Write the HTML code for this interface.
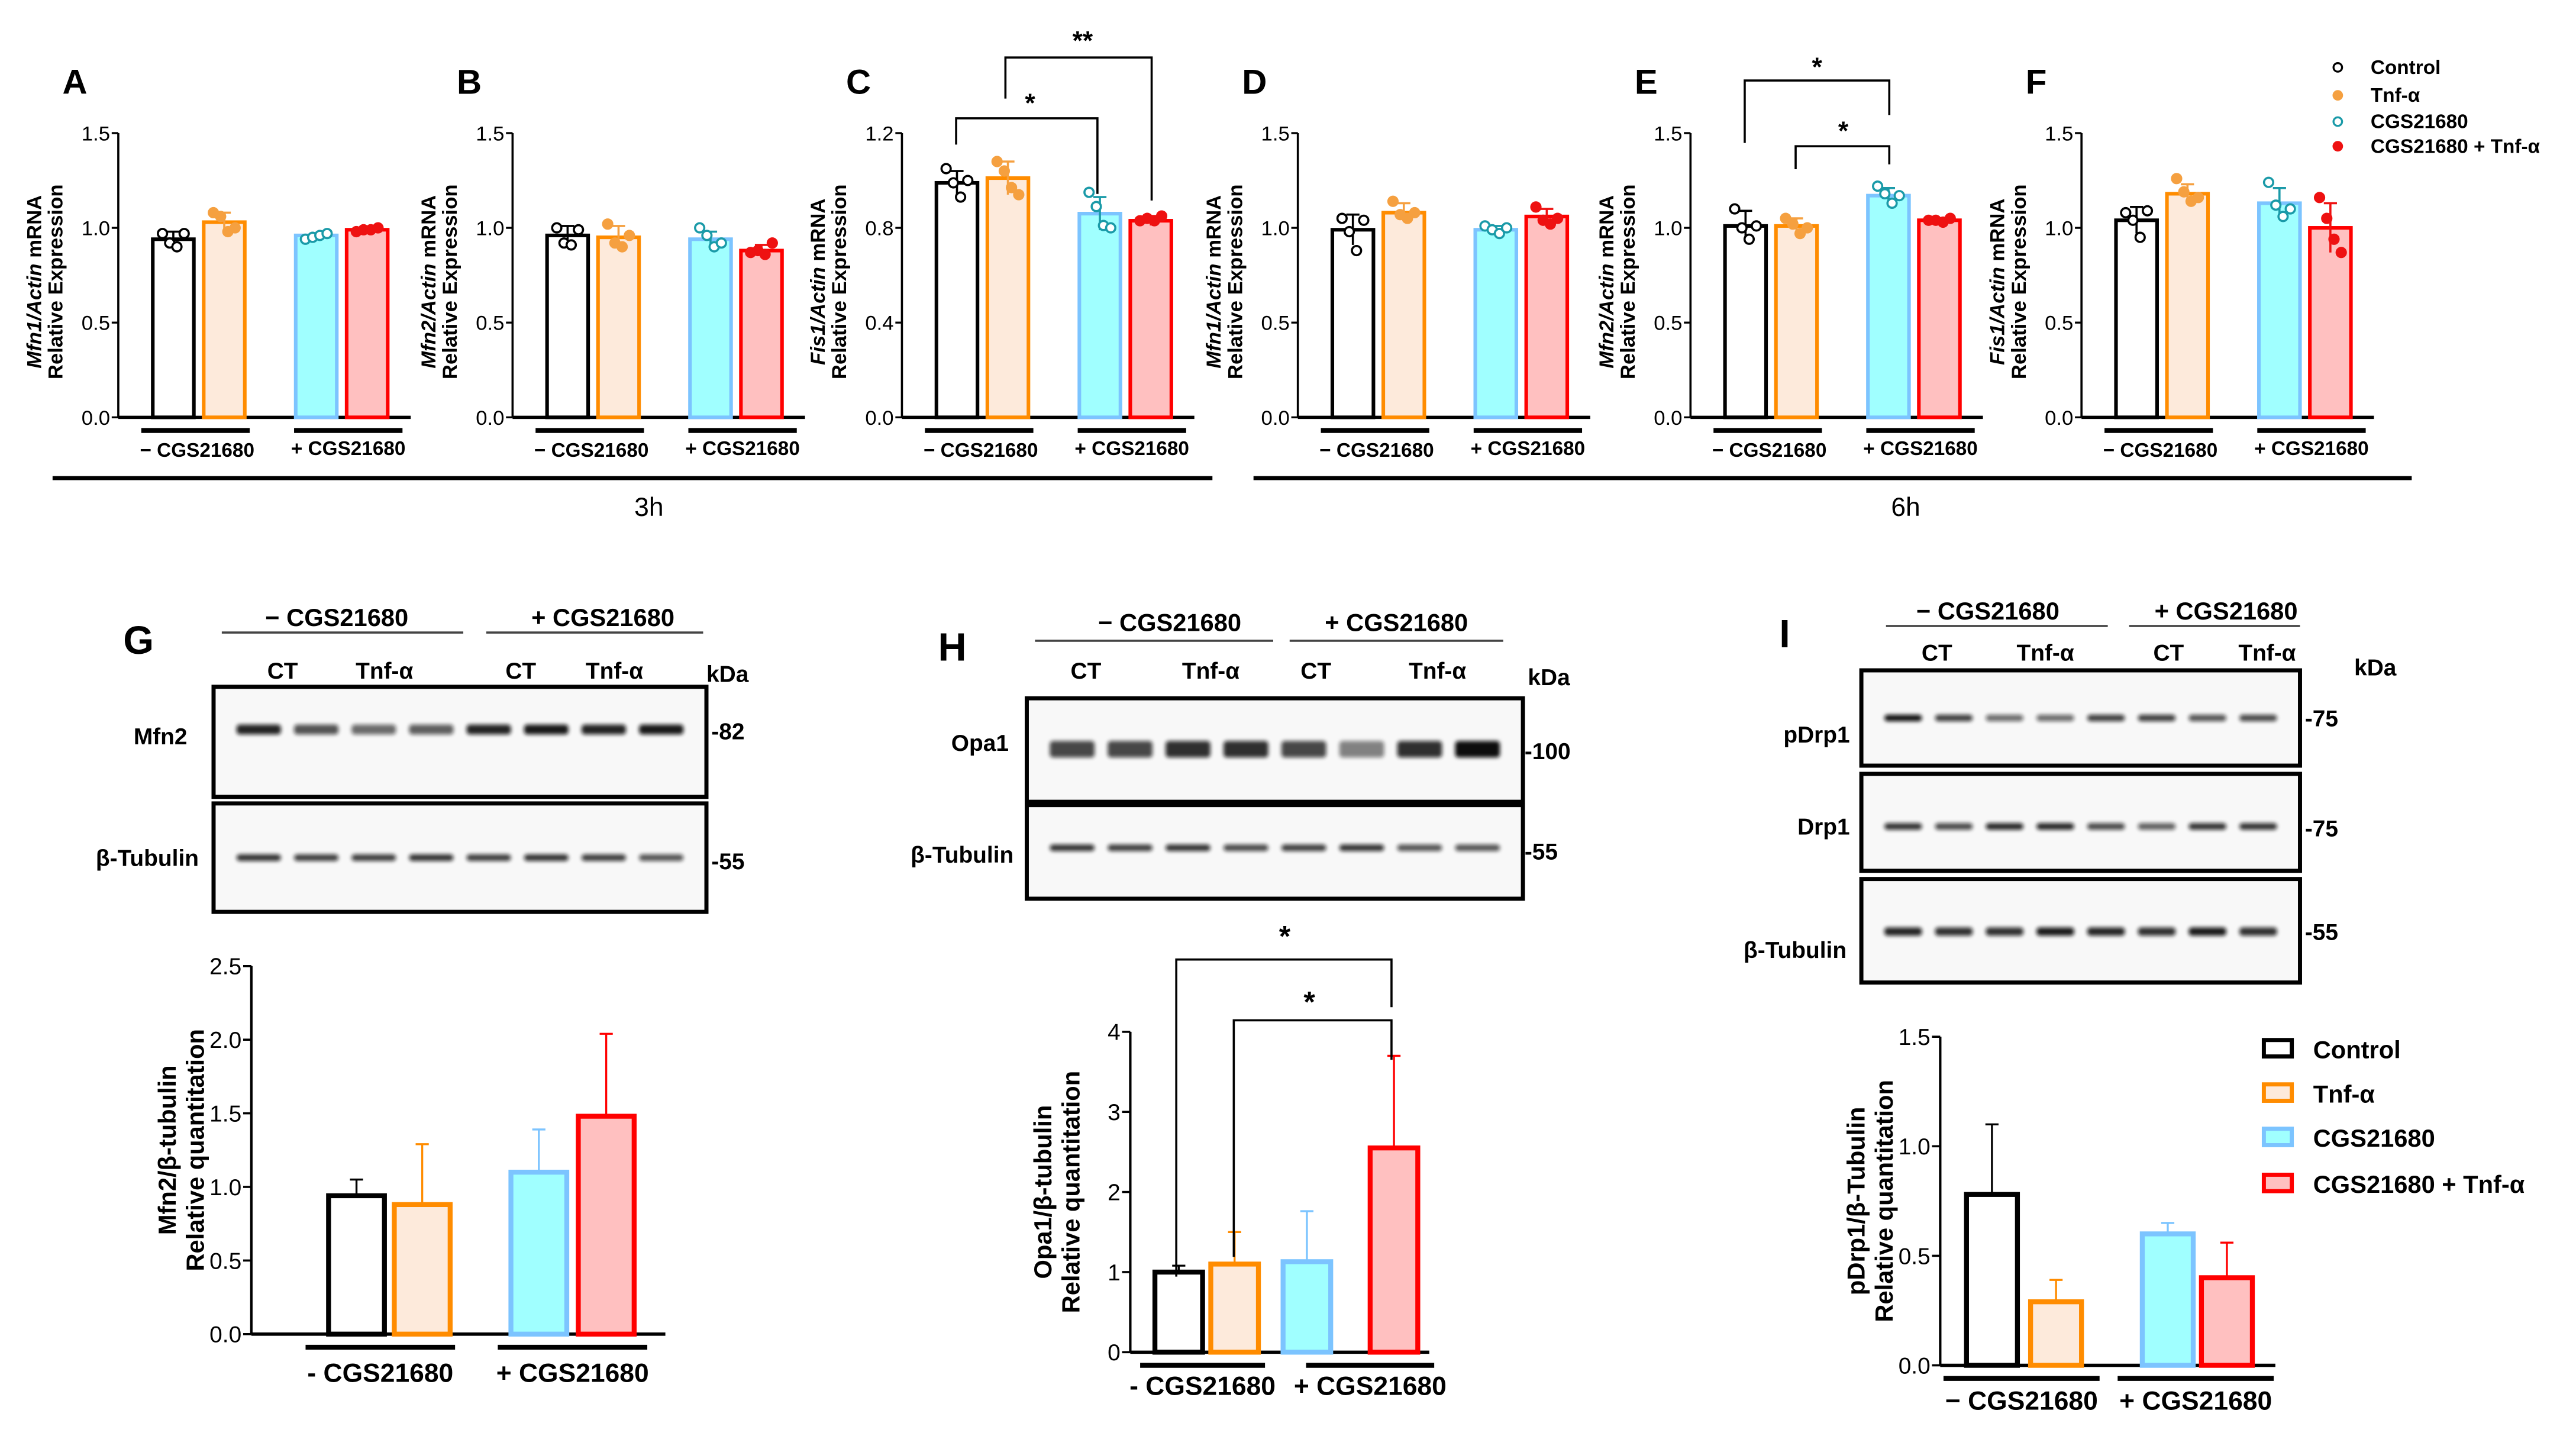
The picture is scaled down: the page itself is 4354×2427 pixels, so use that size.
<!DOCTYPE html>
<html><head><meta charset="utf-8"><style>
html,body{margin:0;padding:0;background:#fff;}
svg{display:block;font-family:"Liberation Sans",sans-serif;}
</style></head><body>
<svg id="fig" width="4354" height="2427" viewBox="0 0 1568 874" xmlns="http://www.w3.org/2000/svg">
<defs><filter id="bl" x="-20%" y="-100%" width="140%" height="300%"><feGaussianBlur stdDeviation="1.2"/></filter></defs>
<g id="root"></g>
</svg>
<script>
// ---- qPCR panel data (A-F) ----
const groups = ["Control","Tnf-α","CGS21680","CGS21680 + Tnf-α"];
const panelLetters = ["A","B","C","D","E","F"];
const panelGenes = ["Mfn1","Mfn2","Fis1","Mfn1","Mfn2","Fis1"];
const panelMax = [1.5,1.5,1.2,1.5,1.5,1.5];
const panelTicks = [[0,0.5,1.0,1.5],[0,0.5,1.0,1.5],[0,0.4,0.8,1.2],[0,0.5,1.0,1.5],[0,0.5,1.0,1.5],[0,0.5,1.0,1.5]];
const meansA = [0.94,1.03,0.96,0.99];
const meansB = [0.96,0.95,0.94,0.88];
const meansC = [0.99,1.01,0.86,0.83];
const meansD = [0.99,1.08,0.99,1.06];
const meansE = [1.01,1.01,1.17,1.04];
const meansF = [1.04,1.18,1.13,1.00];
const ptsA = [[0.97,0.92,0.90,0.97],[1.08,1.06,0.98,1.00],[0.94,0.95,0.96,0.97],[0.98,0.99,0.99,1.00]];
const ptsB = [[1.00,0.92,0.91,0.99],[1.02,0.92,0.90,0.96],[1.00,0.96,0.90,0.92],[0.87,0.88,0.86,0.92]];
const ptsC = [[1.05,0.99,0.93,1.00],[1.08,1.04,0.97,0.94],[0.95,0.89,0.81,0.80],[0.83,0.84,0.83,0.85]];
const ptsD = [[1.05,0.98,0.88,1.04],[1.14,1.07,1.05,1.08],[1.01,0.99,0.97,1.00],[1.11,1.04,1.02,1.05]];
const ptsE = [[1.10,1.00,0.94,1.01],[1.05,1.02,0.97,1.00],[1.22,1.18,1.13,1.17],[1.04,1.04,1.03,1.05]];
const ptsF = [[1.08,1.04,0.95,1.09],[1.26,1.19,1.14,1.16],[1.24,1.12,1.06,1.10],[1.16,1.05,0.94,0.87]];
const sdA=[0.04,0.05,0.01,0.01], sdB=[0.05,0.06,0.04,0.03], sdC=[0.05,0.07,0.07,0.02], sdD=[0.08,0.05,0.02,0.04], sdE=[0.08,0.04,0.04,0.01], sdF=[0.07,0.05,0.08,0.13];
const pMeans=[meansA,meansB,meansC,meansD,meansE,meansF];
const pPts=[ptsA,ptsB,ptsC,ptsD,ptsE,ptsF];
const pSd=[sdA,sdB,sdC,sdD,sdE,sdF];
// ---- western quantification data (G-I) ----
const gMeans=[0.94,0.88,1.10,1.48], gErr=[0.11,0.41,0.29,0.56], gTicks=[0,0.5,1.0,1.5,2.0,2.5];
const hMeans=[1.00,1.10,1.13,2.55], hErr=[0.08,0.40,0.63,1.15], hTicks=[0,1,2,3,4];
const iMeans=[0.78,0.29,0.60,0.40], iErr=[0.32,0.10,0.05,0.16], iTicks=[0,0.5,1.0,1.5];

const NS="http://www.w3.org/2000/svg";
const root=document.getElementById('root');
function el(tag,attrs,parent,text){const e=document.createElementNS(NS,tag);for(const k in attrs)e.setAttribute(k,attrs[k]);if(text!==undefined)e.textContent=text;(parent||root).appendChild(e);return e;}
const strokeC=["#000","#ff8c00","#7cc4ff","#ff0000"];
const fillC=["#fff","#fdeadb","#a0ffff","#ffc0c0"];
const ptC=["#000","#f5a040","#1a9aa8","#ee1111"];
const ptFill=["#fff","#f5a040","#fff","#ee1111"];
const offs=[21,52,108,139];

// qPCR panels
const axX=[72,312,549,790,1029,1267];
for(let p=0;p<6;p++){
  const g=el('g',{});
  
  
  const x0=axX[p],yT=81,yB=254,mx=panelMax[p];
  const ys=v=>yB-(v/mx)*(yB-yT);
  const t=el('text',{x:x0-34,y:57,'font-size':21,'font-weight':'bold'},g,panelLetters[p]);
  
  el('line',{x1:x0,y1:yT,x2:x0,y2:yB,stroke:'#000','stroke-width':1.3},g);
  el('line',{x1:x0,y1:yB,x2:x0+178,y2:yB,stroke:'#000','stroke-width':2},g);
  panelTicks[p].forEach(v=>{el('line',{x1:x0-4,y1:ys(v),x2:x0,y2:ys(v),stroke:'#000','stroke-width':1.2},g);
    const tl=el('text',{x:x0-5,y:ys(v)+4.5,'font-size':12.5,'text-anchor':'end'},g,v.toFixed(1));
    });
  const yl=el('text',{transform:`translate(${x0-47},${(yT+yB)/2+4}) rotate(-90)`,'font-size':12.5,'font-weight':'bold','text-anchor':'middle'},g);
  
  el('tspan',{'font-style':'italic'},yl,panelGenes[p]+'/Actin');el('tspan',{},yl,' mRNA');
  const yl2=el('text',{transform:`translate(${x0-34},${(yT+yB)/2+4}) rotate(-90)`,'font-size':12.5,'font-weight':'bold','text-anchor':'middle'},g,'Relative Expression');
  
  for(let i=0;i<4;i++){
    const bx=x0+offs[i],m=pMeans[p][i];
    const r=el('rect',{x:bx,y:ys(m),width:25,height:yB-ys(m),fill:fillC[i],stroke:strokeC[i],'stroke-width':2.2},g);
    
    const cx=bx+12.5,sd=pSd[p][i];
    el('line',{x1:cx,y1:ys(m-sd),x2:cx,y2:ys(m+sd),stroke:ptC[i],'stroke-width':1.3},g);
    el('line',{x1:cx-4,y1:ys(m+sd),x2:cx+4,y2:ys(m+sd),stroke:ptC[i],'stroke-width':1.3},g);
    pPts[p][i].forEach((v,k)=>{const c=el('circle',{cx:cx+[-6,-2,2,6][k]*1.1,cy:ys(v),r:2.8,fill:ptFill[i],stroke:ptC[i],'stroke-width':1.3},g);
      });
  }
  el('line',{x1:x0+14,y1:262,x2:x0+80,y2:262,stroke:'#000','stroke-width':3},g);
  el('line',{x1:x0+107,y1:262,x2:x0+173,y2:262,stroke:'#000','stroke-width':3},g);
  const l1=el('text',{x:x0+48,y:278,'font-size':12,'font-weight':'bold','text-anchor':'middle'},g,'− CGS21680');
  
  const l2=el('text',{x:x0+140,y:277,'font-size':12,'font-weight':'bold','text-anchor':'middle'},g,'+ CGS21680');
  
}
// significance brackets
function bracket(x1,x2,y,yl1,yl2,star,sx,sy,fs){
  el('path',{d:`M${x1},${yl1} V${y} H${x2} V${yl2}`,fill:'none',stroke:'#000','stroke-width':1.3});
  const s=el('text',{x:sx,y:sy,'font-size':fs||16,'font-weight':'bold','text-anchor':'middle'},root,star);
  
}
bracket(582,668,72,88,118,'*',627,68);
bracket(612,701,35,60,122,'**',659,30);
bracket(1062,1150,49,87,70,'*',1106,46);
bracket(1093,1150,89,103,100,'*',1122,85);
// time lines
el('line',{x1:32,y1:291,x2:738,y2:291,stroke:'#000','stroke-width':2.5});
el('line',{x1:763,y1:291,x2:1468,y2:291,stroke:'#000','stroke-width':2.5});
let tt=el('text',{x:395,y:314,'font-size':16,'text-anchor':'middle'},root,'3h');
tt=el('text',{x:1160,y:314,'font-size':16,'text-anchor':'middle'},root,'6h');
// top legend
groups.forEach((gname,i)=>{const y=[41,58,74,89][i];
  const c=el('circle',{cx:1423,cy:y,r:2.6,fill:ptFill[i],stroke:ptC[i],'stroke-width':1.2});
  
  const t=el('text',{x:1443,y:y+4,'font-size':12,'font-weight':'bold'},root,gname);
  });

// blots
function txt(x,y,s,fs,anchor,name){const t=el('text',{x:x,y:y,'font-size':fs,'font-weight':'bold','text-anchor':anchor||'start'},root,s);
  return t;}
function blot(x1,x2,y1,y2,bandY,th,intens,name){
  const r=el('rect',{x:x1,y:y1,width:x2-x1,height:y2-y1,fill:'#f8f8f8',stroke:'#000','stroke-width':2.5});
  
  const n=8,lw=(x2-x1-20)/n;
  for(let i=0;i<n;i++){const b=el('rect',{x:x1+10+i*lw+4,y:bandY-th/2,width:lw-8,height:th,rx:2,fill:'#111',opacity:intens[i],filter:'url(#bl)'});
    }
}
function header(xm,xp,lm1,lm2,lp1,lp2,yh,yl,lanes,ylane,kx,ky){
  txt(xm,yh,'− CGS21680',15,'middle','group-header');txt(xp,yh,'+ CGS21680',15,'middle','group-header');
  el('line',{x1:lm1,y1:yl,x2:lm2,y2:yl,stroke:'#444','stroke-width':1.3});
  el('line',{x1:lp1,y1:yl,x2:lp2,y2:yl,stroke:'#444','stroke-width':1.3});
  ['CT','Tnf-α','CT','Tnf-α'].forEach((s,i)=>txt(lanes[i],ylane,s,14,'middle','lane-label'));
  txt(kx,ky,'kDa',14,'start','kda-label');
}
// G
txt(75,398,'G',24,'start','panel-letter');
header(205,367,135,282,296,428,381,385,[172,234,317,374],413,430,415);
blot(130,430,418,485,444,6,[0.9,0.7,0.6,0.65,0.9,0.95,0.9,0.95],'blot-mfn2');
blot(130,430,489,555,522,4,[0.85,0.8,0.8,0.85,0.8,0.85,0.8,0.7],'blot-tubulin');
txt(114,453,'Mfn2',14,'end','row-label');txt(121,527,'β-Tubulin',14,'end','row-label');
txt(433,450,'-82',14,'start','kda-marker');txt(433,529,'-55',14,'start','kda-marker');
// H
txt(571,402,'H',24,'start','panel-letter');
header(712,850,630,775,785,915,384,390,[661,737,801,875],413,930,417);
blot(625,927,425,488,456,10,[0.75,0.75,0.85,0.85,0.75,0.5,0.85,1],'blot-opa1');
blot(625,927,490,547,516,4,[0.85,0.8,0.85,0.75,0.8,0.85,0.7,0.7],'blot-tubulin-h');
txt(614,457,'Opa1',14,'end','row-label');txt(617,525,'β-Tubulin',14,'end','row-label');
txt(928,462,'-100',14,'start','kda-marker');txt(928,523,'-55',14,'start','kda-marker');
// I
txt(1083,394,'I',24,'start','panel-letter');
header(1210,1355,1148,1283,1296,1400,377,381,[1179,1245,1320,1380],402,1433,411);
blot(1133,1400,408,466,437,4,[1,0.8,0.6,0.6,0.8,0.8,0.7,0.75],'blot-pdrp1');
blot(1133,1400,471,530,503,4,[0.85,0.75,0.9,0.9,0.75,0.65,0.85,0.85],'blot-drp1');
blot(1133,1400,535,598,567,5,[0.9,0.85,0.85,0.95,0.9,0.85,0.95,0.85],'blot-tubulin-i');
txt(1126,452,'pDrp1',14,'end','row-label');txt(1126,508,'Drp1',14,'end','row-label');txt(1124,583,'β-Tubulin',14,'end','row-label');
txt(1403,442,'-75',14,'start','kda-marker');txt(1403,509,'-75',14,'start','kda-marker');txt(1403,572,'-55',14,'start','kda-marker');

// quantification charts
function qchart(o){
  const g=el('g',{});
  const mx=o.ticks[o.ticks.length-1];const ys=v=>o.yB-(v/mx)*(o.yB-o.yT);
  el('line',{x1:o.x0,y1:o.yT,x2:o.x0,y2:o.yB,stroke:'#000','stroke-width':1.5},g);
  el('line',{x1:o.x0,y1:o.yB,x2:o.xE,y2:o.yB,stroke:'#000','stroke-width':2},g);
  o.ticks.forEach(v=>{el('line',{x1:o.x0-5,y1:ys(v),x2:o.x0,y2:ys(v),stroke:'#000','stroke-width':1.3},g);
    const t=el('text',{x:o.x0-6,y:ys(v)+5,'font-size':14,'text-anchor':'end'},g,o.fmt(v));
    });
  const cy=(o.yT+o.yB)/2+(o.ty||0);
  let t=el('text',{transform:`translate(${o.x0-o.tx},${cy}) rotate(-90)`,'font-size':15,'font-weight':'bold','text-anchor':'middle'},g,o.t1);
  
  t=el('text',{transform:`translate(${o.x0-o.tx+17},${cy}) rotate(-90)`,'font-size':15,'font-weight':'bold','text-anchor':'middle'},g,'Relative quantitation');
  
  for(let i=0;i<4;i++){const bx=o.bars[i],w=o.bw,m=o.means[i];
    const c=bx+w/2;
    el('line',{x1:c,y1:ys(m),x2:c,y2:ys(m+o.err[i]),stroke:strokeC[i],'stroke-width':1.2},g);
    el('line',{x1:c-4,y1:ys(m+o.err[i]),x2:c+4,y2:ys(m+o.err[i]),stroke:strokeC[i],'stroke-width':1.2},g);
    const r=el('rect',{x:bx,y:ys(m),width:w,height:o.yB-ys(m),fill:fillC[i],stroke:strokeC[i],'stroke-width':3},g);
    }
  el('line',{x1:o.l1[0],y1:o.yB+8,x2:o.l1[1],y2:o.yB+8,stroke:'#000','stroke-width':3},g);
  el('line',{x1:o.l2[0],y1:o.yB+8,x2:o.l2[1],y2:o.yB+8,stroke:'#000','stroke-width':3},g);
  t=el('text',{x:(o.l1[0]+o.l1[1])/2,y:o.yB+o.ly,'font-size':16,'font-weight':'bold','text-anchor':'middle'},g,o.lab1);
  
  t=el('text',{x:(o.l2[0]+o.l2[1])/2,y:o.yB+o.ly,'font-size':16,'font-weight':'bold','text-anchor':'middle'},g,'+ CGS21680');
  
  return ys;
}
qchart({name:'chart-g',x0:153,yT:588,yB:812,xE:405,ticks:gTicks,fmt:v=>v.toFixed(1),means:gMeans,err:gErr,bars:[200,240,311,352],bw:34,l1:[186,277],l2:[303,394],lab1:'- CGS21680',t1:'Mfn2/β-tubulin',tx:46,ty:0,ly:29});
qchart({name:'chart-h',x0:688,yT:628,yB:823,xE:870,ticks:hTicks,fmt:v=>String(v),means:hMeans,err:hErr,bars:[703,737,781,834],bw:29,l1:[694,770],l2:[795,873],lab1:'- CGS21680',t1:'Opa1/β-tubulin',tx:48,ty:0,ly:26});
qchart({name:'chart-i',x0:1181,yT:631,yB:831,xE:1385,ticks:iTicks,fmt:v=>v.toFixed(1),means:iMeans,err:iErr,bars:[1197,1236,1304,1340],bw:31,l1:[1183,1278],l2:[1289,1384],lab1:'− CGS21680',t1:'pDrp1/β-Tubulin',tx:46,ty:0,ly:27});
// H brackets
bracket(716,847,584,777,613,'*',782,576,18);
bracket(751,847,621,765,645,'*',797,616,18);
// I legend
groups.forEach((gname,i)=>{const y=[638,665,692,720][i];
  const r=el('rect',{x:1378,y:y-5,width:17,height:10,fill:fillC[i],stroke:strokeC[i],'stroke-width':2.5});
  
  const t=el('text',{x:1408,y:y+6,'font-size':15,'font-weight':'bold'},root,gname);
  });
</script>
</body></html>
